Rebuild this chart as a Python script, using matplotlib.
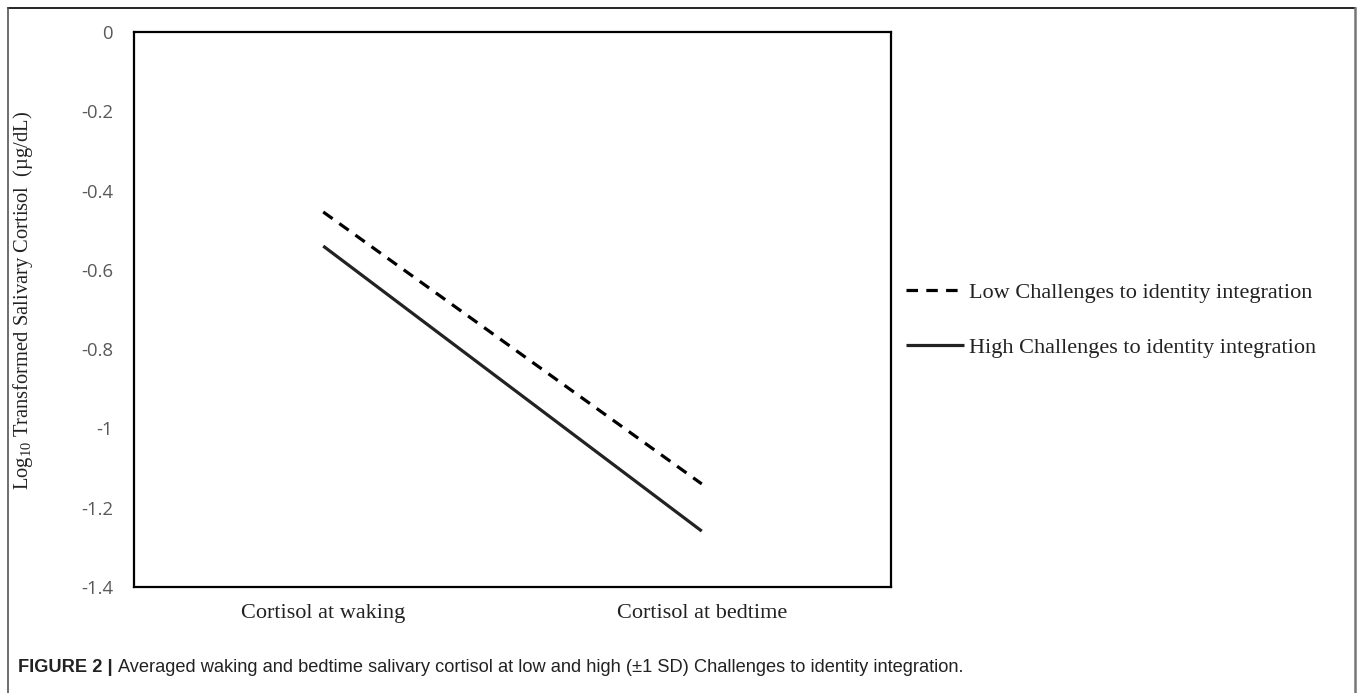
import matplotlib
matplotlib.use("Agg")
import matplotlib.pyplot as plt
from matplotlib.lines import Line2D

categories = ["Cortisol at waking", "Cortisol at bedtime"]
low_values = [-0.454, -1.14]
high_values = [-0.540, -1.259]
series_labels = ["Low Challenges to identity integration",
                 "High Challenges to identity integration"]
yticks = [0, -0.2, -0.4, -0.6, -0.8, -1.0, -1.2, -1.4]
ytick_labels = ["0", "-0.2", "-0.4", "-0.6", "-0.8", "-1", "-1.2", "-1.4"]

plt.rcParams['mathtext.fontset'] = 'custom'
plt.rcParams['mathtext.rm'] = 'Liberation Serif'
plt.rcParams['mathtext.it'] = 'Liberation Serif:italic'

W, H = 1358, 693
fig = plt.figure(figsize=(W / 100, H / 100), dpi=100)
ax = fig.add_axes([134 / W, 1 - 587 / H, (891 - 134) / W, (587 - 32) / H])

x = [0, 1]
ax.plot(x, low_values, color='black', lw=2.3, linestyle=(0, (3.6, 2.6)),
        solid_capstyle='butt', dash_capstyle='butt', label=series_labels[0])
ax.plot(x, high_values, color='#222222', lw=2.3, solid_capstyle='butt',
        label=series_labels[1])

ax.set_xlim(-0.5, 1.5)
ax.set_ylim(-1.4, 0)
ax.set_xticks(x)
ax.set_xticklabels(categories, fontfamily='Liberation Serif', fontsize=16,
                   color='#222222')
ax.set_yticks(yticks)
ax.set_yticklabels(ytick_labels, fontfamily='Open Sans', fontsize=13.3,
                   color='#595959')
ax.tick_params(axis='y', length=0, pad=15)
ax.tick_params(axis='x', length=0, pad=12)
for s in ax.spines.values():
    s.set_linewidth(1.6)
    s.set_color('black')

fig.text(23 / W, 1 - 300 / H,
         r"Log$_{10}$ Transformed Salivary Cortisol  (µg/dL)",
         rotation=90, ha='center', va='center', fontfamily='Liberation Serif',
         fontsize=14.8, color='#222222')

leg = ax.legend(loc='center left', bbox_to_anchor=(906 / W, 1 - 320 / H),
                bbox_transform=fig.transFigure, frameon=False,
                prop={'family': 'Liberation Serif', 'size': 16},
                handlelength=2.6, handletextpad=0.22, labelspacing=1.55,
                borderpad=0, borderaxespad=0)
for t in leg.get_texts():
    t.set_color('#222222')

# outer frame
fig.add_artist(Line2D([8 / W, 1355 / W], [1 - 8 / H, 1 - 8 / H],
                      transform=fig.transFigure, color='black', lw=1.2))
fig.add_artist(Line2D([8 / W, 8 / W], [1 - 8 / H, 0],
                      transform=fig.transFigure, color='#555555', lw=1.2))
fig.add_artist(Line2D([1355 / W, 1355 / W], [1 - 8 / H, 0],
                      transform=fig.transFigure, color='#777777', lw=1.8))

# caption
cap_y = 1 - 667 / H
t1 = fig.text(18 / W, cap_y, "FIGURE 2 | ", fontfamily='Liberation Sans',
              fontweight='bold', fontsize=13.15, color='#222222', va='center')
fig.canvas.draw()
bb = t1.get_window_extent(renderer=fig.canvas.get_renderer())
fig.text(bb.x1 / W, cap_y,
         "Averaged waking and bedtime salivary cortisol at low and high (±1 SD) "
         "Challenges to identity integration.",
         fontfamily='Liberation Sans', fontsize=13.15, color='#222222', va='center')

fig.savefig("out.png", dpi=100)
